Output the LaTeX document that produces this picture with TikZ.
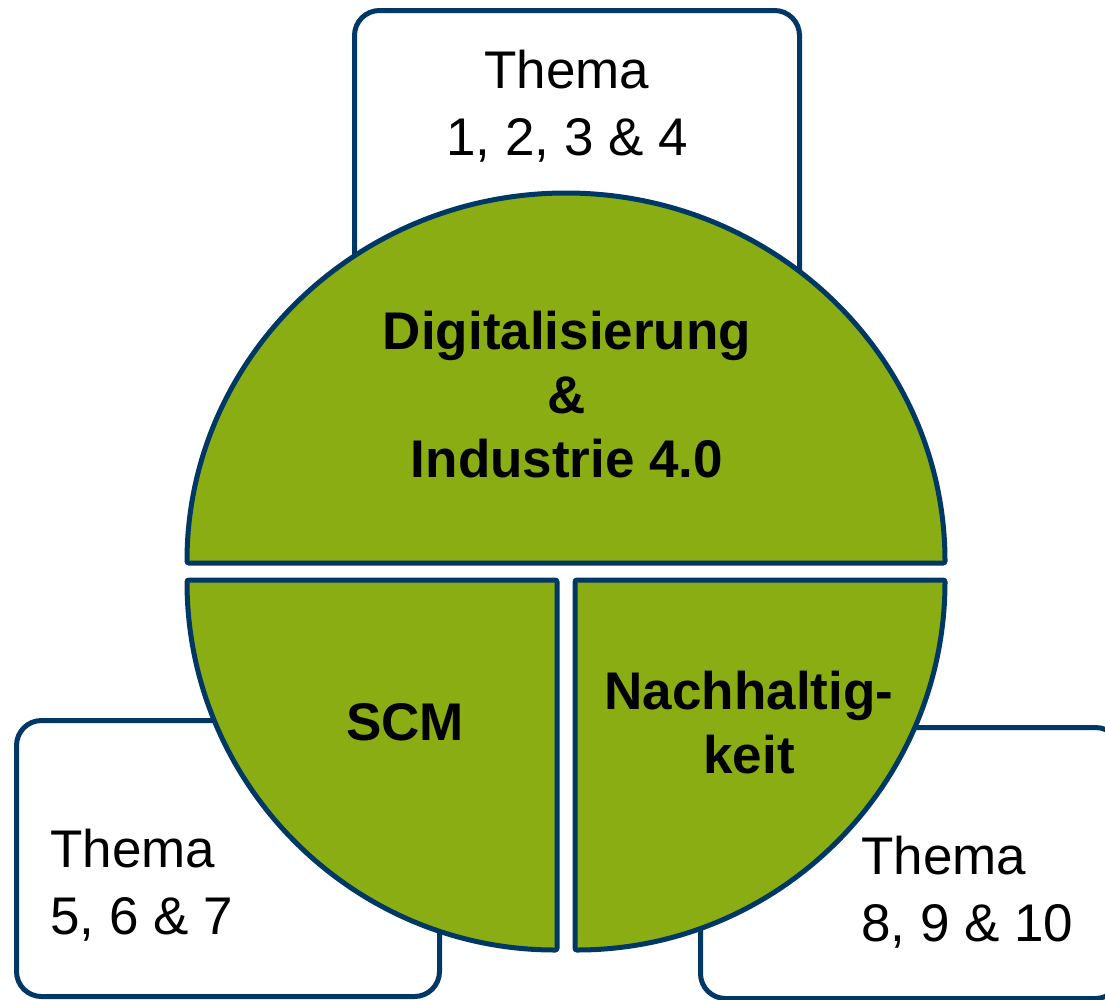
\documentclass[tikz,border=0pt]{standalone}
\usepackage{fontspec}
\setmainfont{Liberation Sans}
\usetikzlibrary{positioning}

\definecolor{themeblue}{RGB}{0,56,101}
\definecolor{themegreen}{RGB}{139,173,20}

\tikzset{
  themebox/.style={draw=themeblue, line width=5pt, fill=white, rounded corners=25pt, inner sep=0pt},
  piece/.style={draw=themeblue, line width=5pt, fill=themegreen, rounded corners=2pt},
  boxtext/.style={inner sep=0pt, font=\fontsize{53}{67}\selectfont},
  piecetext/.style={inner sep=0pt, align=center, font=\fontsize{53}{64}\selectfont\bfseries}
}

\begin{document}
\begin{tikzpicture}[x=1pt, y=-1pt]

  \useasboundingbox (0,0) rectangle (1105,999);

  % circle variables
  \def\rx{379}
  \def\ry{370}
  \def\r{370}

  % theme boxes
  \node (topbox) [themebox, anchor=north west, minimum width=445pt, minimum height=300pt] at (352,8) {};
  \node (leftbox) [themebox, anchor=north west, minimum width=423pt, minimum height=276pt] at (14,718) {};
  \node (rightbox) [themebox, anchor=north west, minimum width=420pt, minimum height=271pt] at (698,725) {};

  \node (toptext) [boxtext, align=center] at (567,106) {Thema\\1, 2, 3 \& 4};
  \node (lefttext) [boxtext, align=left, anchor=west] at (50,885) {Thema\\5, 6 \& 7};
  \node (righttext) [boxtext, align=left, anchor=west] at (861,892) {Thema\\8, 9 \& 10};

  % upper half
  \draw[piece] (187,563) arc[start angle=180, end angle=360, x radius=\rx, y radius=\ry] -- cycle;

  % lower quarters
  \coordinate (SL) at (557,580);
  \coordinate (SR) at (575,580);
  \draw[piece] (SL) -- (187,580) arc[start angle=180, end angle=90, radius=\r] -- cycle;
  \draw[piece] (SR) -- (945,580) arc[start angle=0, end angle=90, radius=\r] -- cycle;

  \node (digital) [piecetext] at (567,395) {Digitalisierung\\\&\\Industrie 4.0};
  \node (scm) [piecetext] at (405,722) {SCM};
  \node (nachhaltig) [piecetext] at (749,723) {Nachhaltig-\\keit};

\end{tikzpicture}
\end{document}
